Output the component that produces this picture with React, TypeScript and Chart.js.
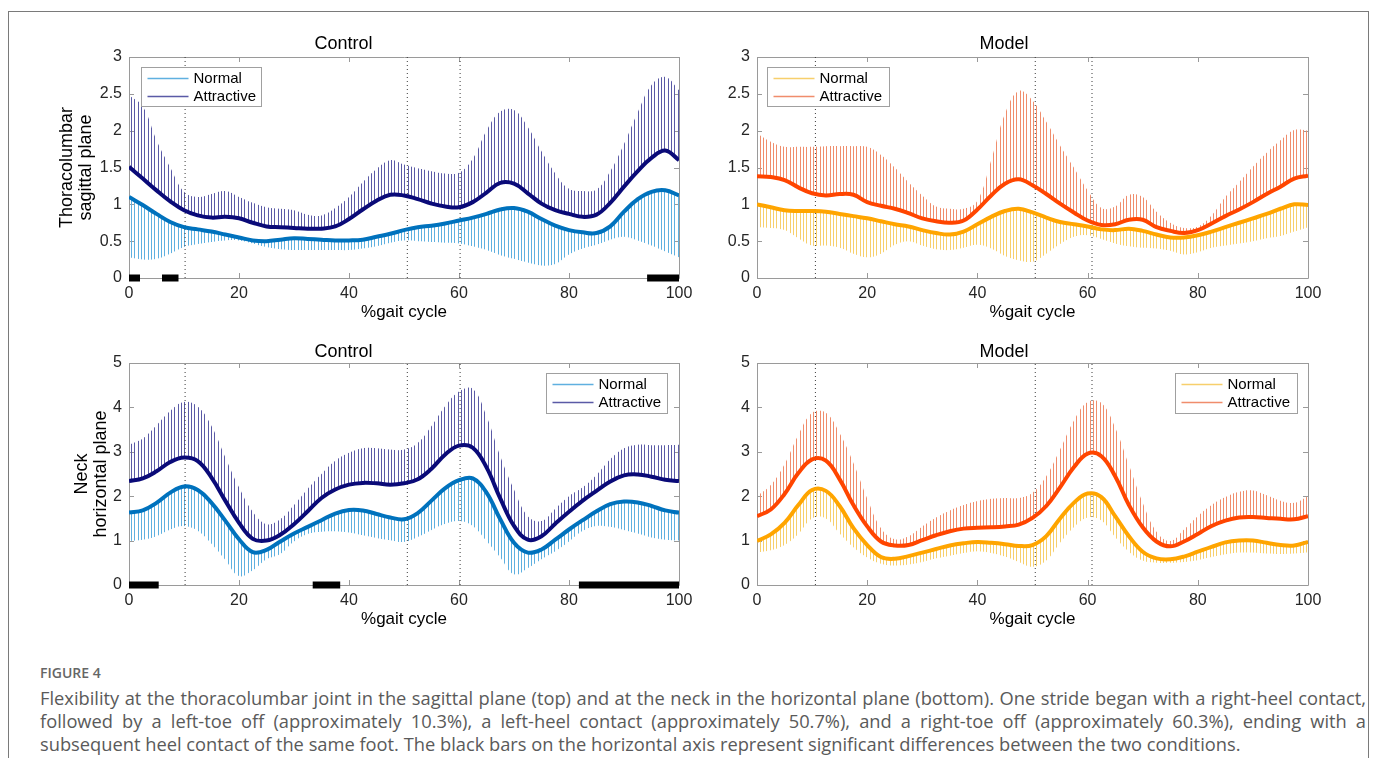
import React, { useEffect, useRef } from "react";
import { Chart, registerables } from "chart.js";

Chart.register(...registerables);

// ---------- shared axes ----------
const gaitPct = [0, 2.5, 5, 7.5, 10, 12.5, 15, 17.5, 20, 22.5, 25, 27.5, 30, 32.5, 35, 37.5, 40, 42.5, 45, 47.5, 50, 52.5, 55, 57.5, 60, 62.5, 65, 67.5, 70, 72.5, 75, 77.5, 80, 82.5, 85, 87.5, 90, 92.5, 95, 97.5, 100];
const xTicks = [0, 20, 40, 60, 80, 100];
const thoracoTicks = [0, 0.5, 1, 1.5, 2, 2.5, 3];
const neckTicks = [0, 1, 2, 3, 4, 5];
const controlEvents = [10.2, 50.6, 60.2];
const modelEvents = [10.6, 50.5, 60.8];

// ---------- Thoracolumbar, Control ----------
const tcNormalMean = [1.10, 0.99, 0.87, 0.76, 0.69, 0.66, 0.63, 0.59, 0.55, 0.51, 0.50, 0.52, 0.54, 0.53, 0.52, 0.51, 0.51, 0.52, 0.56, 0.60, 0.65, 0.69, 0.71, 0.74, 0.78, 0.82, 0.87, 0.93, 0.95, 0.90, 0.80, 0.71, 0.65, 0.62, 0.61, 0.70, 0.90, 1.07, 1.17, 1.19, 1.12];
const tcNormalLow = [0.28, 0.25, 0.26, 0.33, 0.42, 0.46, 0.49, 0.51, 0.51, 0.47, 0.42, 0.39, 0.38, 0.38, 0.38, 0.38, 0.38, 0.40, 0.43, 0.48, 0.51, 0.50, 0.49, 0.48, 0.47, 0.43, 0.38, 0.31, 0.26, 0.21, 0.17, 0.19, 0.32, 0.40, 0.45, 0.52, 0.56, 0.51, 0.44, 0.36, 0.28];
const tcAttrMean = [1.51, 1.35, 1.19, 1.04, 0.92, 0.85, 0.82, 0.83, 0.81, 0.75, 0.70, 0.69, 0.68, 0.67, 0.67, 0.70, 0.80, 0.93, 1.05, 1.13, 1.12, 1.07, 1.01, 0.97, 0.96, 1.03, 1.16, 1.29, 1.28, 1.15, 1.01, 0.92, 0.87, 0.83, 0.86, 1.02, 1.24, 1.45, 1.63, 1.73, 1.60];
const tcAttrHigh = [2.48, 2.33, 1.87, 1.50, 1.17, 1.10, 1.14, 1.18, 1.10, 1.02, 0.96, 0.94, 0.92, 0.86, 0.85, 0.95, 1.10, 1.30, 1.48, 1.60, 1.54, 1.49, 1.45, 1.42, 1.43, 1.62, 2.00, 2.26, 2.28, 2.05, 1.72, 1.42, 1.21, 1.18, 1.20, 1.45, 1.82, 2.25, 2.62, 2.73, 2.55];
const tcSignificant = [[0, 2], [6, 9], [94.2, 100]];

// ---------- Thoracolumbar, Model ----------
const tmNormalMean = [1.00, 0.96, 0.92, 0.91, 0.91, 0.90, 0.87, 0.84, 0.81, 0.77, 0.73, 0.70, 0.65, 0.61, 0.59, 0.63, 0.73, 0.83, 0.91, 0.94, 0.89, 0.82, 0.76, 0.73, 0.70, 0.66, 0.65, 0.67, 0.64, 0.59, 0.55, 0.55, 0.58, 0.63, 0.69, 0.75, 0.81, 0.87, 0.94, 1.00, 0.99];
const tmNormalLow = [0.69, 0.68, 0.65, 0.54, 0.44, 0.44, 0.41, 0.33, 0.28, 0.33, 0.45, 0.50, 0.44, 0.39, 0.38, 0.41, 0.45, 0.40, 0.30, 0.24, 0.22, 0.33, 0.46, 0.56, 0.58, 0.53, 0.47, 0.43, 0.41, 0.40, 0.37, 0.32, 0.35, 0.41, 0.44, 0.47, 0.50, 0.54, 0.57, 0.63, 0.69];
const tmAttrMean = [1.38, 1.37, 1.33, 1.23, 1.15, 1.12, 1.14, 1.13, 1.03, 0.98, 0.94, 0.88, 0.81, 0.77, 0.75, 0.78, 0.93, 1.12, 1.28, 1.34, 1.26, 1.14, 1.01, 0.89, 0.78, 0.72, 0.73, 0.79, 0.79, 0.69, 0.64, 0.61, 0.65, 0.74, 0.84, 0.93, 1.03, 1.14, 1.24, 1.35, 1.39];
const tmAttrHigh = [1.96, 1.85, 1.78, 1.78, 1.78, 1.79, 1.79, 1.79, 1.78, 1.67, 1.50, 1.30, 1.12, 0.97, 0.94, 0.94, 1.05, 1.60, 2.23, 2.54, 2.41, 2.12, 1.80, 1.50, 1.19, 0.95, 0.97, 1.13, 1.10, 0.90, 0.75, 0.68, 0.70, 0.85, 1.10, 1.30, 1.51, 1.70, 1.87, 2.01, 2.00];
const tmSignificant: number[][] = [];

// ---------- Neck, Control ----------
const ncNormalMean = [1.63, 1.68, 1.85, 2.08, 2.22, 2.14, 1.85, 1.45, 1.03, 0.74, 0.79, 0.98, 1.16, 1.31, 1.46, 1.61, 1.69, 1.68, 1.60, 1.52, 1.48, 1.62, 1.90, 2.18, 2.36, 2.40, 2.08, 1.48, 0.95, 0.73, 0.80, 1.02, 1.25, 1.46, 1.66, 1.82, 1.88, 1.86, 1.78, 1.68, 1.63];
const ncNormalLow = [0.99, 1.02, 1.10, 1.25, 1.33, 1.22, 0.93, 0.57, 0.20, 0.33, 0.58, 0.70, 0.98, 1.15, 1.20, 1.21, 1.18, 1.12, 1.06, 1.01, 0.97, 1.08, 1.24, 1.38, 1.44, 1.33, 0.99, 0.62, 0.24, 0.38, 0.58, 0.76, 0.98, 1.22, 1.33, 1.31, 1.24, 1.16, 1.07, 1.02, 1.00];
const ncAttrMean = [2.34, 2.40, 2.56, 2.77, 2.87, 2.79, 2.42, 1.90, 1.40, 1.04, 1.00, 1.13, 1.37, 1.66, 1.96, 2.15, 2.26, 2.30, 2.29, 2.26, 2.29, 2.38, 2.62, 2.94, 3.14, 3.09, 2.65, 1.95, 1.33, 1.02, 1.10, 1.38, 1.65, 1.90, 2.12, 2.33, 2.47, 2.49, 2.44, 2.37, 2.34];
const ncAttrHigh = [3.16, 3.30, 3.60, 3.92, 4.12, 4.02, 3.58, 2.88, 2.20, 1.65, 1.37, 1.48, 1.80, 2.17, 2.50, 2.80, 2.98, 3.08, 3.08, 3.05, 3.05, 3.20, 3.58, 4.03, 4.36, 4.42, 3.80, 2.90, 2.15, 1.55, 1.44, 1.72, 2.00, 2.20, 2.48, 2.83, 3.08, 3.16, 3.15, 3.15, 3.16];
const ncSignificant = [[0, 5.4], [33.4, 38.4], [81.8, 100]];

// ---------- Neck, Model ----------
const nmNormalMean = [0.99, 1.14, 1.40, 1.80, 2.14, 2.12, 1.78, 1.28, 0.90, 0.63, 0.59, 0.65, 0.73, 0.81, 0.89, 0.94, 0.97, 0.95, 0.92, 0.88, 0.90, 1.10, 1.50, 1.85, 2.06, 1.98, 1.55, 1.10, 0.75, 0.60, 0.58, 0.64, 0.75, 0.86, 0.96, 1.00, 1.00, 0.95, 0.90, 0.89, 0.97];
const nmNormalLow = [0.73, 0.78, 0.90, 1.15, 1.50, 1.50, 1.16, 0.85, 0.62, 0.48, 0.44, 0.46, 0.52, 0.60, 0.66, 0.72, 0.76, 0.72, 0.64, 0.52, 0.41, 0.55, 0.95, 1.30, 1.52, 1.45, 1.08, 0.75, 0.55, 0.50, 0.50, 0.52, 0.56, 0.63, 0.69, 0.73, 0.73, 0.71, 0.70, 0.71, 0.74];
const nmAttrMean = [1.55, 1.70, 2.05, 2.52, 2.83, 2.80, 2.38, 1.80, 1.32, 0.98, 0.89, 0.90, 1.01, 1.12, 1.21, 1.27, 1.29, 1.30, 1.32, 1.36, 1.51, 1.78, 2.20, 2.65, 2.96, 2.90, 2.45, 1.80, 1.30, 0.98, 0.87, 0.98, 1.15, 1.33, 1.45, 1.52, 1.53, 1.51, 1.49, 1.48, 1.55];
const nmAttrHigh = [2.00, 2.25, 2.72, 3.38, 3.88, 3.88, 3.42, 2.75, 1.95, 1.28, 1.03, 1.10, 1.32, 1.52, 1.68, 1.80, 1.89, 1.94, 1.96, 1.96, 2.08, 2.45, 3.05, 3.70, 4.12, 4.10, 3.55, 2.70, 1.85, 1.20, 0.99, 1.25, 1.55, 1.80, 1.98, 2.10, 2.13, 2.02, 1.90, 1.85, 2.00];
const nmSignificant: number[][] = [];

const FONT = "'Liberation Sans', Arial, Helvetica, sans-serif";

const CONTROL_COLORS = { normal: "#0072bd", normalBar: "#5fb0e0", attr: "#0a0a78", attrBar: "#5a5aa6" };
const MODEL_COLORS = { normal: "#ffa500", normalBar: "#f7cf6c", attr: "#ff4500", attrBar: "#f08d6c" };

type PanelCfg = {
  left: number; top: number; w: number; h: number;
  title: string; titlePad: { top: number; bottom: number };
  yTitle: string[] | null; yTitlePad: number; yAxisW: number; padR: number;
  yTicks: number[];
  normalMean: number[]; normalLow: number[]; attrMean: number[]; attrHigh: number[];
  events: number[]; significant: number[][];
  colors: typeof CONTROL_COLORS;
  legend: { side: "left" | "right"; dx: number; dy: number; w: number; h: number };
};

const panels: PanelCfg[] = [
  {
    left: 8, top: 11, w: 720, h: 320, title: "Control", titlePad: { top: 24, bottom: 4 },
    yTitle: ["Thoracolumbar", "sagittal plane"], yTitlePad: 50, yAxisW: 121, padR: 49,
    yTicks: thoracoTicks, normalMean: tcNormalMean, normalLow: tcNormalLow, attrMean: tcAttrMean, attrHigh: tcAttrHigh,
    events: controlEvents, significant: tcSignificant, colors: CONTROL_COLORS,
    legend: { side: "left", dx: 12, dy: 10, w: 120, h: 39 },
  },
  {
    left: 700, top: 11, w: 668, h: 320, title: "Model", titlePad: { top: 24, bottom: 4 },
    yTitle: null, yTitlePad: 0, yAxisW: 57, padR: 60,
    yTicks: thoracoTicks, normalMean: tmNormalMean, normalLow: tmNormalLow, attrMean: tmAttrMean, attrHigh: tmAttrHigh,
    events: modelEvents, significant: tmSignificant, colors: MODEL_COLORS,
    legend: { side: "left", dx: 10, dy: 10, w: 122, h: 39 },
  },
  {
    left: 8, top: 331, w: 720, h: 307, title: "Control", titlePad: { top: 12, bottom: 2 },
    yTitle: ["Neck", "horizontal plane"], yTitlePad: 65, yAxisW: 121, padR: 49,
    yTicks: neckTicks, normalMean: ncNormalMean, normalLow: ncNormalLow, attrMean: ncAttrMean, attrHigh: ncAttrHigh,
    events: controlEvents, significant: ncSignificant, colors: CONTROL_COLORS,
    legend: { side: "right", dx: 12, dy: 10, w: 121, h: 40 },
  },
  {
    left: 700, top: 331, w: 668, h: 307, title: "Model", titlePad: { top: 12, bottom: 2 },
    yTitle: null, yTitlePad: 0, yAxisW: 57, padR: 60,
    yTicks: neckTicks, normalMean: nmNormalMean, normalLow: nmNormalLow, attrMean: nmAttrMean, attrHigh: nmAttrHigh,
    events: modelEvents, significant: nmSignificant, colors: MODEL_COLORS,
    legend: { side: "right", dx: 11, dy: 10, w: 122, h: 40 },
  },
];

function hatch(ctx: CanvasRenderingContext2D, color: string) {
  const c = document.createElement("canvas");
  c.width = 10;
  c.height = 1;
  const g = c.getContext("2d")!;
  g.fillStyle = color;
  [0, 3, 6].forEach((x) => g.fillRect(x, 0, 1, 1));
  return ctx.createPattern(c, "repeat")!;
}

const matlabAxes = {
  id: "matlabAxes",
  beforeDatasetsDraw(chart: any) {
    const { ctx, chartArea: a } = chart;
    const xs = chart.scales.x;
    const ys = chart.scales.y;
    ctx.save();
    ctx.strokeStyle = "#9a9a9a";
    ctx.lineWidth = 1;
    ctx.beginPath();
    ctx.rect(Math.round(a.left) + 0.5, Math.round(a.top) + 0.5, Math.round(a.right - a.left), Math.round(a.bottom - a.top));
    const tl = 5;
    xs.ticks.forEach((t: any) => {
      const px = Math.round(xs.getPixelForValue(t.value)) + 0.5;
      ctx.moveTo(px, a.bottom); ctx.lineTo(px, a.bottom - tl);
      ctx.moveTo(px, a.top); ctx.lineTo(px, a.top + tl);
    });
    ys.ticks.forEach((t: any) => {
      const py = Math.round(ys.getPixelForValue(t.value)) + 0.5;
      ctx.moveTo(a.left, py); ctx.lineTo(a.left + tl, py);
      ctx.moveTo(a.right, py); ctx.lineTo(a.right - tl, py);
    });
    ctx.stroke();
    ctx.restore();
  },
  afterDatasetsDraw(chart: any, _args: any, opts: any) {
    const { ctx, chartArea: a } = chart;
    const L = opts.legend;
    if (!L) return;
    const bx = Math.round(L.side === "left" ? a.left + L.dx : a.right - L.dx - L.w) + 0.5;
    const by = Math.round(a.top + L.dy) + 0.5;
    ctx.save();
    ctx.fillStyle = "#ffffff";
    ctx.fillRect(bx, by, L.w, L.h);
    ctx.strokeStyle = "#a0a0a0";
    ctx.lineWidth = 1;
    ctx.strokeRect(bx, by, L.w, L.h);
    ctx.font = `15px ${FONT}`;
    ctx.textBaseline = "middle";
    ctx.textAlign = "left";
    L.items.forEach((it: any, i: number) => {
      const y = by + 11 + i * 18;
      ctx.strokeStyle = it.color;
      ctx.lineWidth = 1.5;
      ctx.beginPath();
      ctx.moveTo(bx + 6, y);
      ctx.lineTo(bx + 47, y);
      ctx.stroke();
      ctx.fillStyle = "#000";
      ctx.fillText(it.label, bx + 52, y + 0.5);
    });
    ctx.restore();
  },
};

function buildConfig(p: PanelCfg, ctx: CanvasRenderingContext2D): any {
  const pts = (arr: number[]) => gaitPct.map((x, i) => ({ x, y: arr[i] }));
  const yMin = p.yTicks[0];
  const yMax = p.yTicks[p.yTicks.length - 1];
  const curve = { tension: 0.4 };
  const datasets: any[] = [
    {
      label: "Attractive SD", data: pts(p.attrHigh), borderColor: "transparent", borderWidth: 0,
      backgroundColor: hatch(ctx, p.colors.attrBar), fill: 1, order: 10, ...curve,
    },
    {
      label: "Attractive", data: pts(p.attrMean), borderColor: p.colors.attr, borderWidth: 4,
      fill: false, order: 3, ...curve,
    },
    {
      label: "Normal SD", data: pts(p.normalLow), borderColor: "transparent", borderWidth: 0,
      backgroundColor: hatch(ctx, p.colors.normalBar), fill: 3, order: 10, ...curve,
    },
    {
      label: "Normal", data: pts(p.normalMean), borderColor: p.colors.normal, borderWidth: 4,
      fill: false, order: 2, ...curve,
    },
  ];
  p.events.forEach((e) =>
    datasets.push({
      label: "event", data: [{ x: e, y: yMin }, { x: e, y: yMax }], borderColor: "#3a3a3a",
      borderWidth: 1, borderDash: [1, 3], fill: false, order: 5, tension: 0,
    })
  );
  p.significant.forEach(([a, b]) =>
    datasets.push({
      label: "significant", data: [{ x: a, y: 0 }, { x: b, y: 0 }], borderColor: "#000",
      borderWidth: 7, borderCapStyle: "butt", fill: false, order: 0, clip: false, tension: 0,
    })
  );

  return {
    type: "line",
    data: { datasets },
    plugins: [matlabAxes],
    options: {
      responsive: false,
      animation: false,
      events: [],
      elements: { point: { radius: 0, hoverRadius: 0 } },
      layout: { padding: { left: 0, right: p.padR, top: 0, bottom: 0 } },
      plugins: {
        legend: { display: false },
        tooltip: { enabled: false },
        title: {
          display: true, text: p.title, color: "#000",
          font: { family: FONT, size: 18, weight: "normal", lineHeight: 1 },
          padding: p.titlePad,
        },
        matlabAxes: {
          legend: {
            ...p.legend,
            items: [
              { label: "Normal", color: p.colors.normalBar },
              { label: "Attractive", color: p.colors.attrBar },
            ],
          },
        },
      },
      scales: {
        x: {
          type: "linear", min: 0, max: 100,
          afterBuildTicks: (s: any) => { s.ticks = xTicks.map((v) => ({ value: v })); },
          grid: { display: false, drawTicks: false },
          border: { display: false },
          ticks: { padding: 6, color: "#262626", font: { family: FONT, size: 16 }, maxRotation: 0, autoSkip: false },
          title: { display: true, text: "%gait cycle", color: "#000", font: { family: FONT, size: 17 }, padding: { top: 0, bottom: 8 } },
          afterFit: (s: any) => { s.height = 53; },
        },
        y: {
          type: "linear", min: yMin, max: yMax,
          afterBuildTicks: (s: any) => { s.ticks = p.yTicks.map((v) => ({ value: v })); },
          grid: { display: false, drawTicks: false },
          border: { display: false },
          ticks: { padding: 7, color: "#262626", font: { family: FONT, size: 16 }, autoSkip: false, callback: (v: any) => String(v) },
          title: {
            display: !!p.yTitle, text: p.yTitle || "", color: "#000",
            font: { family: FONT, size: 18, lineHeight: 1.03 }, padding: { top: p.yTitlePad, bottom: 0 },
          },
          afterFit: (s: any) => { s.width = p.yAxisW; },
        },
      },
    },
  };
}

function Panel({ cfg }: { cfg: PanelCfg }) {
  const ref = useRef<HTMLCanvasElement>(null);
  useEffect(() => {
    const canvas = ref.current!;
    const chart = new Chart(canvas, buildConfig(cfg, canvas.getContext("2d")!));
    return () => chart.destroy();
  }, [cfg]);
  return (
    <canvas
      ref={ref}
      width={cfg.w}
      height={cfg.h}
      style={{ position: "absolute", left: cfg.left, top: cfg.top, width: cfg.w, height: cfg.h }}
    />
  );
}

const captionLines = [
  "Flexibility at the thoracolumbar joint in the sagittal plane (top) and at the neck in the horizontal plane (bottom). One stride began with a right-heel contact,",
  "followed by a left-toe off (approximately 10.3%), a left-heel contact (approximately 50.7%), and a right-toe off (approximately 60.3%), ending with a",
  "subsequent heel contact of the same foot. The black bars on the horizontal axis represent significant differences between the two conditions.",
];

export default function App() {
  return (
    <div style={{ position: "fixed", left: 0, top: 0, width: 1375, height: 758, overflow: "hidden", background: "#fff" }}>
      <div style={{ position: "absolute", left: 8, top: 11, width: 1361, height: 770, border: "1px solid #7a7a7a", boxSizing: "border-box" }} />
      {panels.map((p, i) => (
        <Panel key={i} cfg={p} />
      ))}
      <div style={{ position: "absolute", left: 40, top: 663, fontFamily: "'Open Sans', sans-serif", fontSize: 14, fontWeight: 600, color: "#666", lineHeight: "20px" }}>
        FIGURE 4
      </div>
      <div style={{ position: "absolute", left: 40, top: 685.5, width: 1326, fontFamily: "'Open Sans', sans-serif", fontSize: 18.3, color: "#5a5a5a", lineHeight: "23px" }}>
        {captionLines.map((l, i) => (
          <div key={i} style={{ textAlign: "justify", textAlignLast: i < captionLines.length - 1 ? "justify" : "left", whiteSpace: "nowrap" as any }}>
            {l}
          </div>
        ))}
      </div>
    </div>
  );
}
